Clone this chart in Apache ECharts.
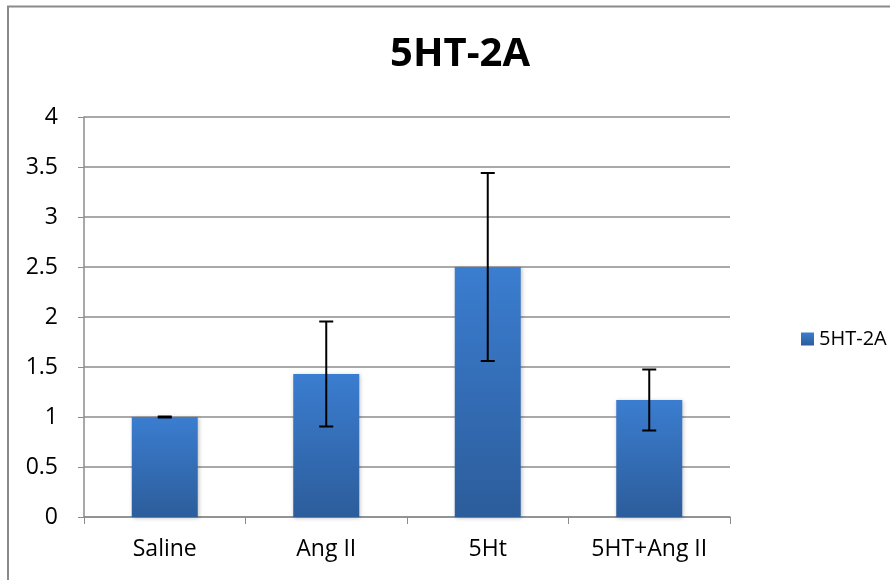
<!DOCTYPE html>
<html><head><meta charset="utf-8">
<script src="https://cdn.jsdelivr.net/npm/echarts@6/dist/echarts.min.js"></script>
<style>html,body{margin:0;padding:0;background:#fff}#c{width:890px;height:580px}</style>
</head><body><div id="c"></div>
<script>
const categories = ['Saline', 'Ang II', '5Ht', '5HT+Ang II'];
const values = [1.0, 1.43, 2.5, 1.17];
const errors = [0.005, 0.525, 0.94, 0.305];
const seriesName = '5HT-2A';
const yTicks = [0, 0.5, 1, 1.5, 2, 2.5, 3, 3.5, 4];

const chart = echarts.init(document.getElementById('c'));
const font = '"Open Sans", Lato, sans-serif';
const errData = categories.map((c, i) => [i, values[i] - errors[i], values[i] + errors[i]]);
chart.setOption({
  animation: false,
  title: { text: '5HT-2A', left: 455, top: 30, textAlign: 'center',
    textStyle: { fontFamily: font, fontSize: 40, fontWeight: 'bold', color: '#000' } },
  graphic: [{ type: 'polyline', shape: { points: [[8, 600], [8, 6.5], [900, 6.5]] },
    style: { stroke: '#8a8a8a', lineWidth: 2, fill: null } }],
  legend: { show: true, left: 796, top: 324, itemWidth: 13, itemHeight: 13, itemGap: 6,
    data: [seriesName], icon: 'rect',
    textStyle: { fontFamily: font, fontSize: 20, color: '#000' } },
  grid: { left: 84, right: 160, top: 117, bottom: 63, containLabel: false },
  xAxis: { type: 'category', data: categories,
    axisLine: { lineStyle: { color: '#8c8c8c', width: 1.5 } },
    axisTick: { show: true, length: 7, alignWithLabel: false, lineStyle: { color: '#8c8c8c' } },
    axisLabel: { fontFamily: font, fontSize: 23, color: '#000', margin: 21 } },
  yAxis: { type: 'value', min: 0, max: 4, interval: 0.5,
    axisLine: { show: true, lineStyle: { color: '#8c8c8c', width: 1.5 } },
    axisTick: { show: true, length: 6, lineStyle: { color: '#8c8c8c' } },
    splitLine: { lineStyle: { color: '#8c8c8c', width: 1.5 } },
    axisLabel: { fontFamily: font, fontSize: 23, color: '#000', margin: 26 } },
  series: [{
    name: seriesName, type: 'bar', data: values, barWidth: 66,
    itemStyle: {
      color: new echarts.graphic.LinearGradient(0, 0, 0, 1, [
        { offset: 0, color: '#3b7dd0' }, { offset: 1, color: '#2c5d9b' }]),
      shadowColor: 'rgba(0,0,0,0.25)', shadowBlur: 4, shadowOffsetX: 1, shadowOffsetY: 1
    }
  }, {
    type: 'custom', name: 'err', data: errData, z: 10,
    renderItem: function (params, api) {
      const x = api.value(0);
      const lo = api.coord([x, api.value(1)]);
      const hi = api.coord([x, api.value(2)]);
      const w = 7;
      const st = { stroke: '#000', lineWidth: 2 };
      return { type: 'group', children: [
        { type: 'line', shape: { x1: lo[0], y1: lo[1], x2: hi[0], y2: hi[1] }, style: st },
        { type: 'line', shape: { x1: lo[0] - w, y1: lo[1], x2: lo[0] + w, y2: lo[1] }, style: st },
        { type: 'line', shape: { x1: hi[0] - w, y1: hi[1], x2: hi[0] + w, y2: hi[1] }, style: st }
      ]};
    }
  }]
});
</script></body></html>
